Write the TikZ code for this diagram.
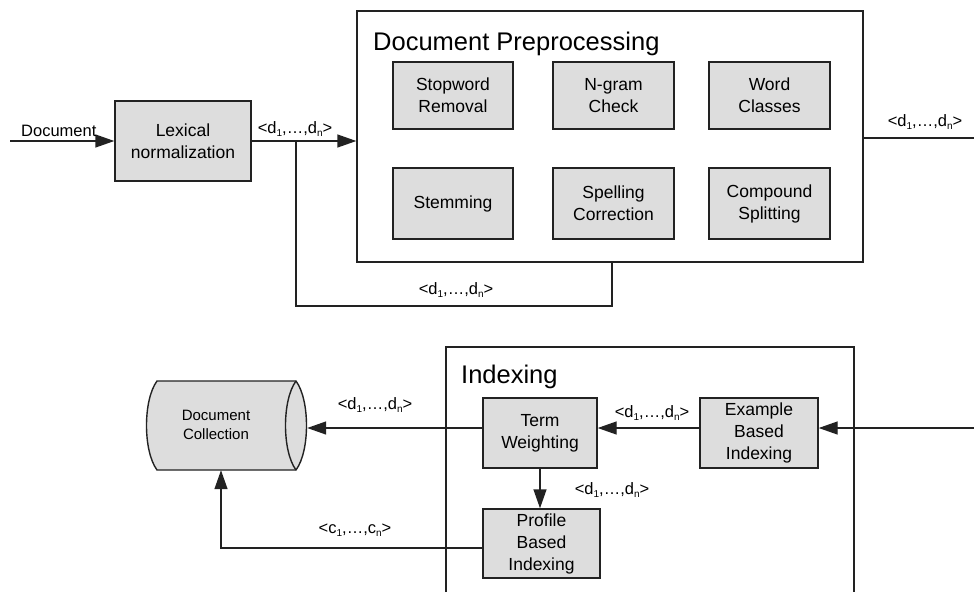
\documentclass[tikz,border=0pt]{standalone}
\usepackage{fontspec}
\setmainfont{Liberation Sans}
\usetikzlibrary{arrows.meta}
\definecolor{boxfill}{HTML}{DDDDDD}
\definecolor{ink}{HTML}{222222}
\newcommand{\lowidx}[1]{\raisebox{-3pt}{\fontsize{10}{10}\selectfont #1}}
\newcommand{\dseq}[1]{<#1\lowidx{1},\dots,#1\lowidx{n}>}
\tikzset{
  box/.style={draw=ink, fill=boxfill, line width=1.4pt, align=center,
    font=\fontsize{17.5}{22}\selectfont, inner sep=0pt},
  frame/.style={draw=ink, line width=1.4pt, inner sep=0pt},
  title/.style={font=\fontsize{25.5}{30}\selectfont, anchor=base west, inner sep=0pt},
  lbl/.style={font=\fontsize{16.5}{20}\selectfont, inner sep=0pt},
  link/.style={draw=ink, line width=1.4pt},
  arr/.style={link, -{Triangle[length=19pt,width=13pt]}},
}
\begin{document}
\begin{tikzpicture}[x=1pt, y=-1pt]
\useasboundingbox (0,0) rectangle (974,592);

% --- preprocessing stage ---
\node[box, minimum width=136pt, minimum height=80pt] (lex) at (183,141) {Lexical\\normalization};
\node[frame, minimum width=506pt, minimum height=251pt] (dp) at (610,136.5) {};
\node[title] (dpt) at (373,50) {Document Preprocessing};

\node[box, minimum width=120pt, minimum height=67pt] (stop) at (453,95.5) {Stopword\\Removal};
\node[box, minimum width=121pt, minimum height=67pt] (ngram) at (613.5,95.5) {N-gram\\Check};
\node[box, minimum width=121pt, minimum height=67pt] (wcls) at (769.5,95.5) {Word\\Classes};
\node[box, minimum width=120pt, minimum height=71pt] (stem) at (453,203.5) {Stemming};
\node[box, minimum width=121pt, minimum height=71pt] (spell) at (613.5,203.5) {Spelling\\Correction};
\node[box, minimum width=121pt, minimum height=71pt] (comp) at (769.5,203.5) {Compound\\Splitting};

\coordinate (inL) at (10,141);
\coordinate (loopL) at (296,306);
\coordinate (loopR) at (612,306);
\coordinate (outR) at (974,138);

\draw[arr] (inL) -- (lex.west);
\node[lbl, anchor=base west] (ldoc) at (21,136) {Document};
\draw[arr] (lex.east) -- (dp.west |- lex.east);
\node[lbl] (l1) at (295,129) {\dseq{d}};
\draw[link] (loopL |- lex.east) -- (loopL) -- (loopR) -- (loopR |- dp.south);
\node[lbl] (l2) at (456,290) {\dseq{d}};
\draw[link] (dp.east |- outR) -- (outR);
\node[lbl] (l3) at (925,122) {\dseq{d}};

% --- indexing stage ---
\coordinate (ixTL) at (446,347);
\coordinate (ixTR) at (854,347);
\draw[link] (ixTL |- 0,592) -- (ixTL) -- (ixTR) -- (ixTR |- 0,592);
\node[title] (ixt) at (461,383) {Indexing};

\node[box, minimum width=114pt, minimum height=70pt] (tw) at (540,433) {Term\\Weighting};
\node[box, minimum width=118pt, minimum height=70pt] (ex) at (759,433) {Example\\Based\\Indexing};
\node[box, minimum width=117pt, minimum height=69pt] (pb) at (541.5,543.5) {Profile\\Based\\Indexing};

% document collection: horizontal cylinder, open end on the right
\draw[draw=ink, fill=boxfill, line width=1.4pt, line join=miter]
  (157,381) -- (296,381) .. controls (310,400) and (310,451) .. (296,470)
  -- (157,470) .. controls (143,451) and (143,400) .. (157,381) -- cycle;
\draw[draw=ink, line width=1.4pt]
  (296,381) .. controls (282,400) and (282,451) .. (296,470);
\node[minimum width=161pt, minimum height=89pt, inner sep=0pt] (dc) at (226.5,425.5) {};
\node[align=center, font=\fontsize{15}{19}\selectfont, inner sep=0pt] (dct) at (216,425) {Document\\Collection};

\coordinate (inR) at (974,428);
\coordinate (cc) at (221,548);

\draw[arr] (inR) -- (ex.east |- inR);
\draw[arr] (ex.west |- inR) -- (tw.east |- inR);
\node[lbl] (l4) at (652,413) {\dseq{d}};
\draw[arr] (tw.west |- inR) -- (dc.east |- inR);
\node[lbl] (l5) at (375,405) {\dseq{d}};
\draw[arr] (tw.south) -- (tw.south |- pb.north);
\node[lbl] (l6) at (612,490) {\dseq{d}};
\draw[arr] (pb.west |- cc) -- (cc) -- (cc |- dc.south);
\node[lbl] (l7) at (355,530) {\dseq{c}};
\end{tikzpicture}
\end{document}
